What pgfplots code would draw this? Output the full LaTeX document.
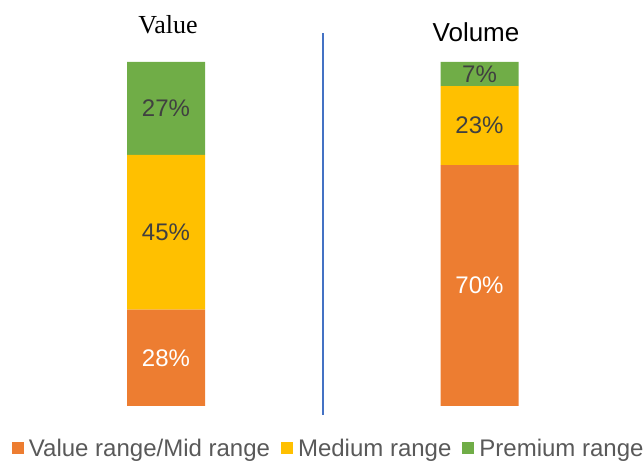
\documentclass[border=0pt]{standalone}
\usepackage{pgfplots}
\pgfplotsset{compat=1.18}
\usepackage{pgfplotstable}
\usepackage{fontspec}
\setmainfont{Liberation Sans}
\newfontfamily\timesfont{Liberation Serif}

\definecolor{rangeorange}{HTML}{ED7D31}
\definecolor{rangeyellow}{HTML}{FFC000}
\definecolor{rangegreen}{HTML}{70AD47}
\definecolor{dividerblue}{HTML}{4472C4}
\definecolor{labelgray}{HTML}{404040}
\definecolor{legendgray}{HTML}{595959}

% share of each price range, bar at x = 166 (Value) and x = 479.5 (Volume)
\pgfplotstableread{
x y
166 28
479.5 70
}\valuerange
\pgfplotstableread{
x y
166 45
479.5 23
}\mediumrange
\pgfplotstableread{
x y
166 27
479.5 7
}\premiumrange

\begin{document}
\begin{tikzpicture}
\useasboundingbox (0,0) rectangle (644bp,462bp);
\begin{axis}[
  at={(0,56bp)}, anchor=south west,
  scale only axis, width=644bp, height=344bp,
  xmin=0, xmax=644, ymin=0, ymax=100,
  hide axis, clip=false,
  ybar stacked, bar width=78bp,
  /pgf/number format/assume math mode=true,
  point meta={\thisrow{y}},
  nodes near coords={\pgfmathprintnumber{\pgfplotspointmeta}\%},
  every node near coord/.append style={anchor=center,
    font=\fontsize{24bp}{28bp}\selectfont, text=labelgray, inner sep=0pt},
  legend columns=3,
  legend cell align=left,
  legend image code/.code={\fill[#1,draw=none] (0bp,-5.5bp) rectangle (12bp,6.5bp);},
  legend style={draw=none, fill=none, inner sep=0pt, outer sep=0pt,
    at={(0.01863,-0.15119)}, anchor=south west,
    font=\fontsize{24bp}{28bp}\selectfont, text=legendgray,
    nodes={inner sep=0pt},
    /tikz/every odd column/.append style={column sep=5bp},
    /tikz/every even column/.append style={column sep=11bp}},
]
\addplot[fill=rangeorange, draw=none,
  every node near coord/.append style={text=white}] table {\valuerange};
\addlegendentry{Value range/Mid range}
\addplot[fill=rangeyellow, draw=none] table {\mediumrange};
\addlegendentry{Medium range}
\addplot[fill=rangegreen, draw=none] table {\premiumrange};
\addlegendentry{Premium range}
\end{axis}
% divider between the two bars
\draw[dividerblue, line width=1.2bp] (323bp,47bp) -- (323bp,429bp);
% panel titles
\node[anchor=base, inner sep=0pt, font=\timesfont\fontsize{26bp}{30bp}\selectfont]
  at (168bp,428bp) {Value};
\node[anchor=base, inner sep=0pt, font=\fontsize{26bp}{30bp}\selectfont]
  at (476bp,420bp) {Volume};
\end{tikzpicture}
\end{document}
